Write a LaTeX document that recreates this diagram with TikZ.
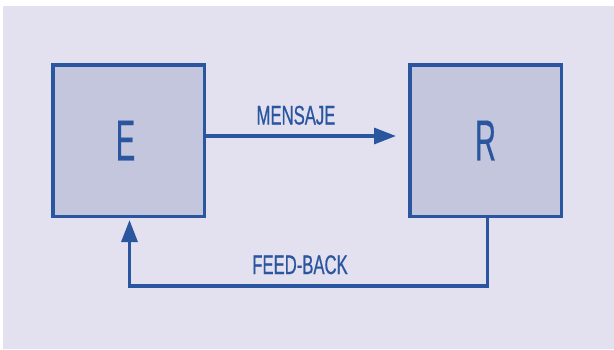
\documentclass[tikz,border=0pt]{standalone}
\usepackage{fontspec}
\usetikzlibrary{arrows.meta}
\newfontfamily\condfont[FakeStretch=0.62,FakeBold=0.6]{Liberation Sans}
\newfontfamily\bigfont[FakeStretch=0.5,FakeBold=0.4]{Liberation Sans}
\definecolor{lineblue}{HTML}{2A559F}
\definecolor{boxfill}{HTML}{C4C6DE}
\definecolor{bgcol}{HTML}{E3E1EF}
\tikzset{
  block/.style={draw=lineblue, fill=boxfill, line width=3.5bp, minimum width=151.5bp, minimum height=151.5bp, inner sep=0pt, text=lineblue, font=\bigfont\fontsize{58}{60}\selectfont},
  conn/.style={draw=lineblue, line width=3.3bp, -{Triangle[length=22bp,width=16bp]}},
  lbl/.style={text=lineblue, anchor=base, inner sep=0pt, font=\condfont\fontsize{27}{30}\selectfont}
}
\begin{document}
\begin{tikzpicture}[x=1bp,y=-1bp]
  \useasboundingbox (0,0) rectangle (614,349);
  \fill[white] (0,0) rectangle (614,349);
  \fill[bgcol] (3,6) rectangle (614,349);
  \node[block] (E) at (128.5,140.5) {\hspace*{-6bp}E};
  \node[block] (R) at (485.5,140.5) {R};
  \draw[conn, shorten >=12bp] ([yshift=4.5bp]E.east) -- ([yshift=4.5bp]R.west);
  \draw[conn, shorten >=2bp] ([xshift=2bp]R.south) -- ++(0,68) -| ([xshift=1bp]E.south);
  \node[lbl] (m) at (296,124.5) {MENSAJE};
  \node[lbl] (f) at (300,274) {FEED-BACK};
\end{tikzpicture}
\end{document}
